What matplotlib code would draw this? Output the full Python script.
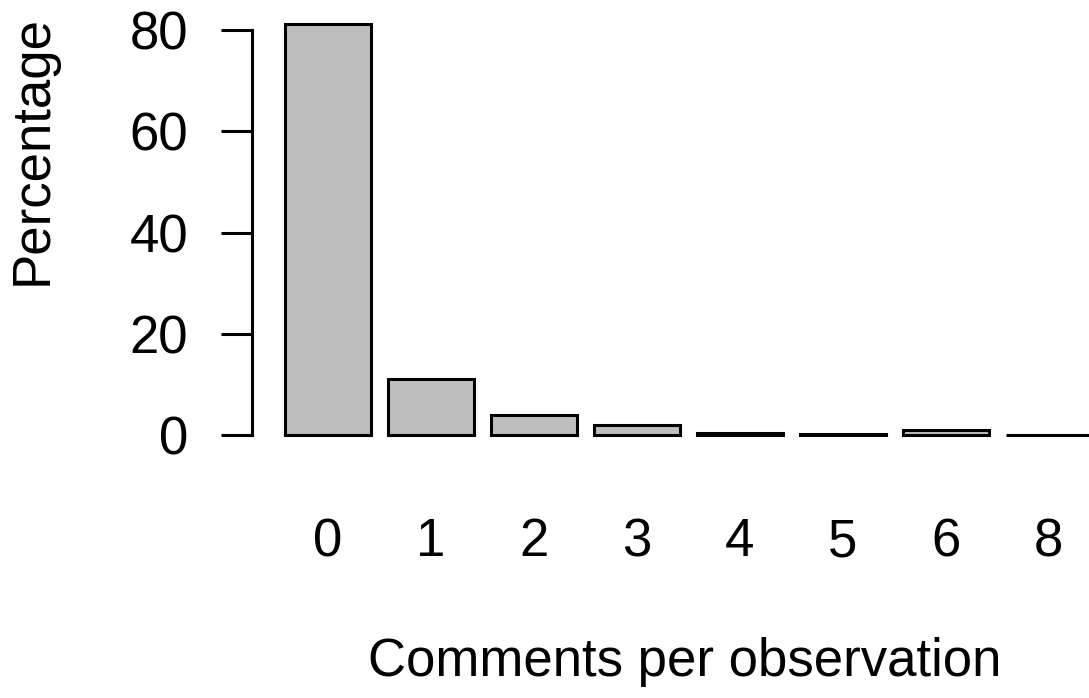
import matplotlib
matplotlib.use('Agg')
import matplotlib.pyplot as plt

categories = ['0', '1', '2', '3', '4', '5', '6', '8']
percentages = [81.1, 11.2, 4.05, 2.1, 0.5, 0.2, 1.0, 0.1]

plt.rcParams['font.family'] = ['Liberation Sans', 'DejaVu Sans']

fig = plt.figure(figsize=(10.89, 6.98), dpi=100)
ax = fig.add_axes([252 / 1089, 1 - 452 / 698, 1 - 252 / 1089, 444 / 698])

# R barplot style: width 1, space 0.2
centers = [0.7 + 1.2 * i for i in range(len(categories))]
ax.bar(centers, percentages, width=1.0, color='#bebebe', edgecolor='black', linewidth=2.2)

ax.set_xlim(-0.185, 9.57)
ax.set_ylim(-3.26, 84.34)

for side in ['top', 'right', 'bottom']:
    ax.spines[side].set_visible(False)
ax.spines['left'].set_bounds(0, 80)
ax.spines['left'].set_linewidth(2.2)

ax.set_yticks([0, 20, 40, 60, 80])
ax.tick_params(axis='y', length=22, width=2.2, pad=24, labelsize=38)
ax.set_xticks(centers, categories)
ax.tick_params(axis='x', length=0, pad=47, labelsize=38)

ax.set_xlabel('Comments per observation', fontsize=38)
ax.xaxis.set_label_coords(685 / 1089, 1 - 662 / 698, transform=fig.transFigure)
ax.xaxis.label.set_va('center')
ax.set_ylabel('Percentage', fontsize=38)
ax.yaxis.set_label_coords(33 / 1089, 1 - 150 / 698, transform=fig.transFigure)
ax.yaxis.label.set_va('center')

plt.savefig('out.png', dpi=100)
